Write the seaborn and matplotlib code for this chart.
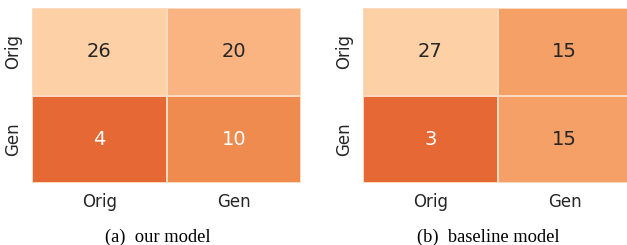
import matplotlib
matplotlib.use("Agg")
import matplotlib.pyplot as plt
import numpy as np
import seaborn as sns
from matplotlib.colors import LinearSegmentedColormap

labels = ["Orig", "Gen"]
ours = [[26, 20], [4, 10]]
baseline = [[27, 15], [3, 15]]
captions = ["(a)  our model", "(b)  baseline model"]

sns.set_theme(style="white")

# muted orange ramp, dark for low counts, light for high counts
cmap = LinearSegmentedColormap.from_list(
    "muted_oranges",
    ["#e66834", "#f0894e", "#f4a066", "#f9b684", "#fdd1a5"])

fig = plt.figure(figsize=(6.27, 2.45), dpi=100)
W, H = 627, 245
boxes = [(32, 8, 269, 175), (363, 8, 269, 175)]

for (x0, y0, w, h), mat, cap in zip(boxes, [ours, baseline], captions):
    ax = fig.add_axes([x0 / W, 1 - (y0 + h) / H, w / W, h / H])
    sns.heatmap(np.array(mat), annot=True, fmt="d", cmap=cmap, cbar=False,
                xticklabels=labels, yticklabels=labels, ax=ax,
                linewidths=0.25, linecolor="#f9d9bf",
                annot_kws={"size": 14})
    ax.tick_params(length=0, pad=7, labelsize=12, colors="#262626")
    plt.setp(ax.get_yticklabels(), rotation=90, va="center")
    fig.text((x0 + w / 2 - 9) / W, 1 - 237 / H, cap, ha="center", va="center",
             family="Liberation Serif", fontsize=13.3, color="black")

fig.savefig("out.png", dpi=100)
